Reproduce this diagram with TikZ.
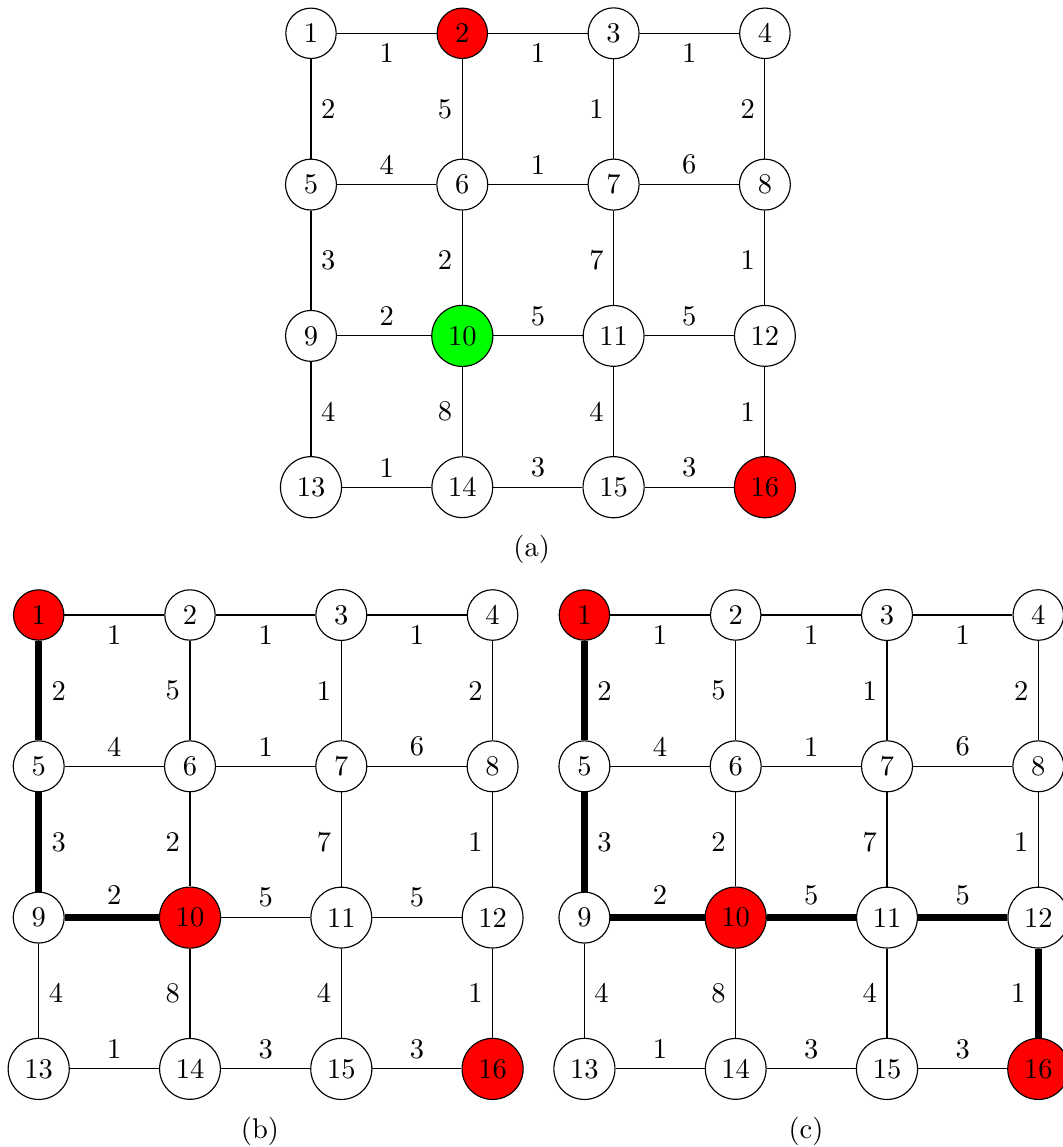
\documentclass[tikz,border=0pt]{standalone}
\usetikzlibrary{calc}
\newcommand{\gridfill}[3]{\expandafter\gdef\csname gfill-#1-#2\endcsname{#3}}
\newcommand{\gridthick}[3]{\expandafter\gdef\csname gthick-#1-#2-#3\endcsname{}}
\newcommand{\drawgrid}[3]{%
  \foreach \i in {1,...,16}{%
    \pgfmathtruncatemacro\gc{mod(\i-1,4)}%
    \pgfmathtruncatemacro\gr{(\i-1)/4}%
    \ifcsname gfill-#1-\i\endcsname\edef\fc{\csname gfill-#1-\i\endcsname}\else\def\fc{white}\fi
    \node[vtx, fill=\fc] (#1\i) at ({#2+\gc*151.3},{#3+\gr*151.3}) {\i};
  }%
  \foreach \u/\v/\w/\anc in {1/2/1/north, 2/3/1/north, 3/4/1/north,
      5/6/4/south, 6/7/1/south, 7/8/6/south,
      9/10/2/south, 10/11/5/south, 11/12/5/south,
      13/14/1/south, 14/15/3/south, 15/16/3/south,
      1/5/2/west, 5/9/3/west, 9/13/4/west,
      2/6/5/east, 6/10/2/east, 10/14/8/east,
      3/7/1/east, 7/11/7/east, 11/15/4/east,
      4/8/2/east, 8/12/1/east, 12/16/1/east}{%
    \ifcsname gthick-#1-\u-\v\endcsname\def\lw{2.4pt}\else\def\lw{0.4pt}\fi
    \draw[line width=\lw] (#1\u) -- (#1\v)
      node[lbl, anchor=\anc] at ($(#1\u.center)!0.5!(#1\v.center)$) {\w};
  }%
}
\gridfill{a}{2}{red}\gridfill{a}{10}{green}\gridfill{a}{16}{red}
\gridfill{b}{1}{red}\gridfill{b}{10}{red}\gridfill{b}{16}{red}
\gridfill{c}{1}{red}\gridfill{c}{10}{red}\gridfill{c}{16}{red}
\gridthick{b}{1}{5}\gridthick{b}{5}{9}\gridthick{b}{9}{10}
\gridthick{c}{1}{5}\gridthick{c}{5}{9}\gridthick{c}{9}{10}
\gridthick{c}{10}{11}\gridthick{c}{11}{12}\gridthick{c}{12}{16}
\begin{document}
\begin{tikzpicture}[x=0.35088pt, y=-0.35088pt,
  vtx/.style={draw, circle, line width=0.4pt},
  lbl/.style={inner sep=0.333em},
  captext/.style={}]
  \useasboundingbox (0,0) rectangle (1062,1147);
  \drawgrid{a}{311}{33.3}
  \drawgrid{b}{38.7}{615}
  \drawgrid{c}{584.4}{615}
  \node[captext] (capa) at (531.7,549.3) {(a)};
  \node[captext] (capb) at (260,1131.7) {(b)};
  \node[captext] (capc) at (806,1131.7) {(c)};
\end{tikzpicture}
\end{document}
